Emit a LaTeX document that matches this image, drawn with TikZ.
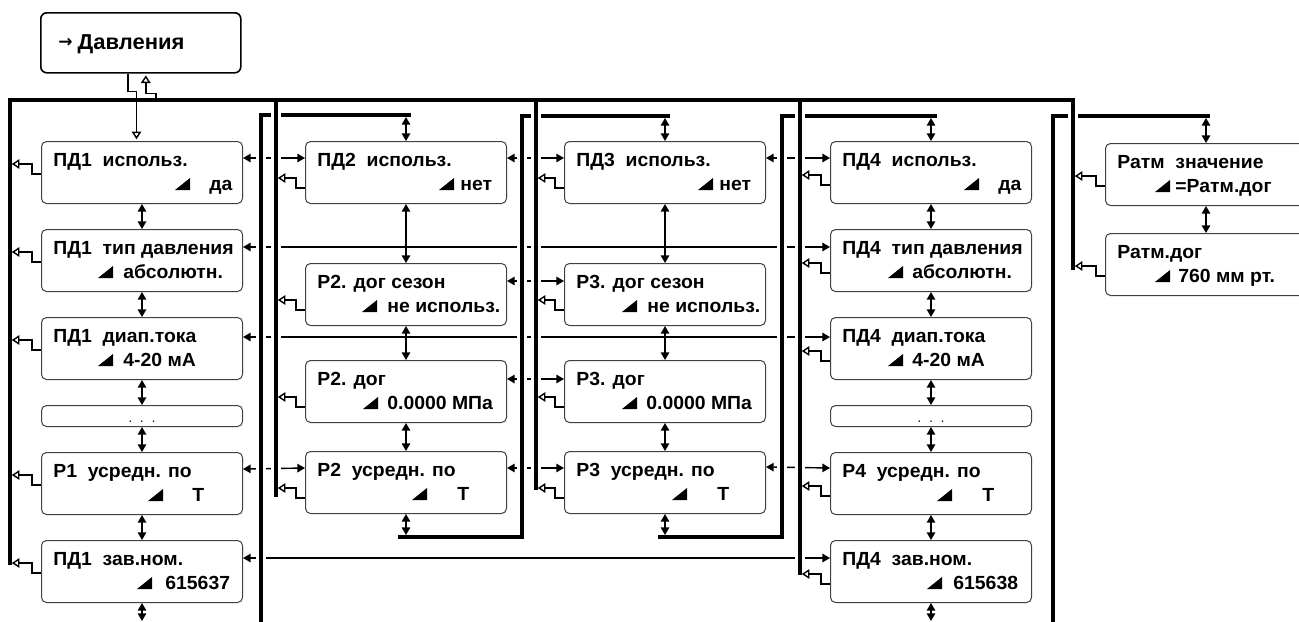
\documentclass[tikz,border=0pt]{standalone}
\usepackage{fontspec}
\newfontfamily\lcdfont[FakeStretch=1.02]{Liberation Sans Bold}
\newfontfamily\symfont{DejaVu Sans Bold}
\usetikzlibrary{arrows.meta, positioning, calc}

% one display screen: name, placement, first line, marker offset, value offset, value
\newcommand{\lcdscreen}[6]{%
  \node[lcd, #2] (#1) {};
  \node[txt] (#1-top) at ($(#1.north west)+(12,25)$) {#3};
  \node[txt] (#1-val) at ($(#1.north west)+(#5,49)$) {#6};
  \fill ($(#1.north west)+(#4,49)$) -- ++(15,0) -- ++(0,-12) -- cycle;
}

\begin{document}
\begin{tikzpicture}[
    x=0.5pt, y=-0.5pt,
    node distance=12.5pt,
    lcd/.style={draw=black!75, line width=0.5pt, rounded corners=2.5pt, minimum width=100.5pt, minimum height=31pt, inner sep=0pt},
    dotbox/.style={lcd, minimum height=10.5pt},
    title/.style={draw, line width=0.8pt, rounded corners=3pt, minimum width=100pt, minimum height=30pt, inner sep=0pt},
    txt/.style={font=\lcdfont\fontsize{9.5pt}{11pt}\selectfont, inner sep=0pt, anchor=base west},
    nav/.style={line width=0.7pt, {Triangle[length=3.8pt,width=4.2pt]}-{Triangle[length=3.8pt,width=4.2pt]}},
    back/.style={line width=0.7pt, -{Triangle[open,length=3.8pt,width=4.8pt]}, shorten >=0.9pt},
    bus/.style={line width=1.8pt, preaction={draw=white, line width=5pt}}
]
\useasboundingbox (0,0) rectangle (1299,621);
\coordinate (edge) at (0,621);

% title
\node[title, anchor=north west] (menu) at (40,12) {};
\node[txt, font=\lcdfont\fontsize{10.8pt}{12pt}\selectfont] (menu-txt) at ($(menu.north west)+(18,37)$) {\raisebox{1pt}{\symfont\fontsize{8.5pt}{9pt}\selectfont →}\hspace{2.5pt}Давления};

% column 1
\lcdscreen{pd1a}{anchor=north west, at={(41,141)}}{ПД1~~использ.}{134}{168}{да}
\lcdscreen{pd1b}{below=of pd1a}{ПД1~~тип давления}{57}{82}{абсолютн.}
\lcdscreen{pd1c}{below=of pd1b}{ПД1~~диап.тока}{57}{82}{4-20 мА}
\node[dotbox, below=of pd1c] (pd1d) {};
\node[txt, anchor=base, font=\fontsize{7pt}{8pt}\selectfont] (pd1d-txt) at ($(pd1d.south)+(0,-5)$) {.\hspace{3.5pt}.\hspace{3.5pt}.};
\lcdscreen{r1}{below=of pd1d}{Р1~~усредн. по}{107}{151}{Т}
\lcdscreen{pd1z}{below=of r1}{ПД1~~зав.ном.}{96}{124}{615637}

% column 2
\lcdscreen{pd2a}{anchor=north west, at={(305,141)}}{ПД2~~использ.}{134}{155}{нет}
\lcdscreen{r2s}{below=29.5pt of pd2a}{Р2. дог сезон}{57}{82}{не использ.}
\lcdscreen{r2d}{below=17pt of r2s}{Р2. дог}{58}{82}{0.0000 МПа}
\lcdscreen{r2u}{below=14pt of r2d}{Р2~~усредн. по}{107}{152}{Т}

% column 3
\lcdscreen{pd3a}{anchor=north west, at={(564,141)}}{ПД3~~использ.}{134}{155}{нет}
\lcdscreen{r3s}{below=29.5pt of pd3a}{Р3. дог сезон}{58}{83}{не использ.}
\lcdscreen{r3d}{below=17pt of r3s}{Р3. дог}{58}{82}{0.0000 МПа}
\lcdscreen{r3u}{below=14pt of r3d}{Р3~~усредн. по}{108}{153}{Т}

% column 4
\lcdscreen{pd4a}{anchor=north west, at={(830,141)}}{ПД4~~использ.}{134}{168}{да}
\lcdscreen{pd4b}{below=of pd4a}{ПД4~~тип давления}{58}{82}{абсолютн.}
\lcdscreen{pd4c}{below=of pd4b}{ПД4~~диап.тока}{58}{82}{4-20 мА}
\node[dotbox, below=of pd4c] (pd4d) {};
\node[txt, anchor=base, font=\fontsize{7pt}{8pt}\selectfont] (pd4d-txt) at ($(pd4d.south)+(0,-5)$) {.\hspace{3.5pt}.\hspace{3.5pt}.};
\lcdscreen{r4}{below=of pd4d}{Р4~~усредн. по}{107}{152}{Т}
\lcdscreen{pd4z}{below=of r4}{ПД4~~зав.ном.}{97}{123}{615638}

% column 5
\lcdscreen{patm}{anchor=north west, at={(1105,143)}}{Ратм~~значение}{50}{70}{=Ратм.дог}
\lcdscreen{patmd}{below=13.5pt of patm}{Ратм.дог}{50}{73}{760 мм рт.}

% links between columns
\draw[nav] ($(pd1a.north east)+(0,17)$) -- ($(pd2a.north west)+(0,17)$);
\draw[nav] ($(pd2a.north east)+(0,17)$) -- ($(pd3a.north west)+(0,17)$);
\draw[nav] ($(pd3a.north east)+(0,17)$) -- ($(pd4a.north west)+(0,17)$);
\draw[nav] ($(pd1b.north east)+(0,18)$) -- ($(pd4b.north west)+(0,18)$);
\draw[nav] ($(pd1c.north east)+(0,20)$) -- ($(pd4c.north west)+(0,20)$);
\draw[nav] ($(r2s.north east)+(0,18)$) -- ($(r3s.north west)+(0,18)$);
\draw[nav] ($(r2d.north east)+(0,19)$) -- ($(r3d.north west)+(0,19)$);
\draw[nav] ($(r1.north east)+(0,17)$) -- ($(r2u.north west)+(0,17)$);
\draw[nav] ($(r2u.north east)+(0,17)$) -- ($(r3u.north west)+(0,17)$);
\draw[nav] ($(r3u.north east)+(0,16)$) -- ($(r4.north west)+(0,16)$);
\draw[nav] ($(pd1z.north east)+(0,18)$) -- ($(pd4z.north west)+(0,18)$);

% jumps from column to column
\draw[bus] (411,115) -| (261,625);
\draw[bus] (398,537) -| (522,116) -- (670,116);
\draw[bus] (658,537) -| (782,116) -- (937,116);
\draw[bus] (1210,116) -| (1053,625);

% return lines
\draw[bus] (276,100) -- (276,497);
\draw[bus] (536,100) -- (536,490);
\draw[bus] (800,100) -- (800,575);
\draw[bus] (1073,100) -- (1073,270);
\draw[line width=1.8pt, line cap=rect] (10,563) |- (1073,100);

% scrolling inside the columns
\draw[nav] (pd1a) -- (pd1b);
\draw[nav] (pd1b) -- (pd1c);
\draw[nav] (pd1c) -- (pd1d);
\draw[nav] (pd1d) -- (r1);
\draw[nav] (r1) -- (pd1z);
\draw[nav] (pd1z.south) -- (pd1z.south |- edge);
\draw[nav] (pd2a.north |- 0,117) -- (pd2a.north);
\draw[nav] (pd2a) -- (r2s);
\draw[nav] (r2s) -- (r2d);
\draw[nav] (r2d) -- (r2u);
\draw[nav] (r2u.south) -- (r2u.south |- 0,535);
\draw[nav] (pd3a.north |- 0,118) -- (pd3a.north);
\draw[nav] (pd3a) -- (r3s);
\draw[nav] (r3s) -- (r3d);
\draw[nav] (r3d) -- (r3u);
\draw[nav] (r3u.south) -- (r3u.south |- 0,535);
\draw[nav] (pd4a.north |- 0,118) -- (pd4a.north);
\draw[nav] (pd4a) -- (pd4b);
\draw[nav] (pd4b) -- (pd4c);
\draw[nav] (pd4c) -- (pd4d);
\draw[nav] (pd4d) -- (r4);
\draw[nav] (r4) -- (pd4z);
\draw[nav] (pd4z.south) -- (pd4z.south |- edge);
\draw[nav] (patm.north |- 0,118) -- (patm.north);
\draw[nav] (patm) -- (patmd);

% returns to the previous level
\draw[back] ($(menu.south)+(-13,0)$) -- ++(0,18) -| ($(pd1a.north)+(-5.5,0)$);
\draw[back] ($(menu.south)+(15,28)$) -- ++(0,-8) -| ($(menu.south)+(5,0)$);
\foreach \b in {pd1a,pd1b,pd1c,r1,pd1z}
  \draw[back] ($(\b.north west)+(0,33)$) -- ++(-9,0) -- ++(0,-10) coordinate (h) -- (h -| 10,0);
\foreach \b in {pd2a,r2s,r2d,r2u}
  \draw[back] ($(\b.north west)+(0,47)$) -- ++(-9,0) -- ++(0,-10) coordinate (h) -- (h -| 276,0);
\foreach \b in {pd3a,r3s,r3d,r3u}
  \draw[back] ($(\b.north west)+(0,47)$) -- ++(-9,0) -- ++(0,-10) coordinate (h) -- (h -| 536,0);
\foreach \b in {pd4a,pd4b,pd4c,r4,pd4z}
  \draw[back] ($(\b.north west)+(0,44)$) -- ++(-9,0) -- ++(0,-10) coordinate (h) -- (h -| 800,0);
\foreach \b in {patm,patmd}
  \draw[back] ($(\b.north west)+(0,43)$) -- ++(-9,0) -- ++(0,-10) coordinate (h) -- (h -| 1073,0);
\end{tikzpicture}
\end{document}
